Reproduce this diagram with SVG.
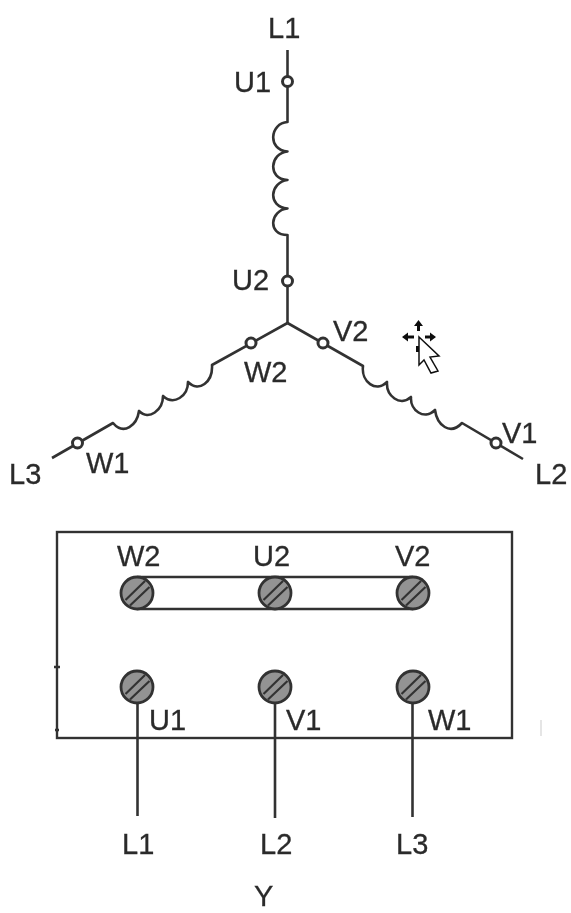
<svg xmlns="http://www.w3.org/2000/svg" width="571" height="913" viewBox="0 0 571 913">
<style>
text{font-family:"Liberation Sans",Arial,sans-serif;font-size:29px;fill:#2b2b2b;stroke:#2b2b2b;stroke-width:0.3}
.w{fill:none;stroke:#333;stroke-width:2.600;stroke-linecap:butt;stroke-linejoin:round}
.t{fill:#fff;stroke:#333;stroke-width:3}
.s{fill:#939393;stroke:#333;stroke-width:2.800}
.n{fill:none;stroke:#333;stroke-width:2.200}
</style>
<defs>
<filter id="b" x="-5%" y="-5%" width="110%" height="110%"><feGaussianBlur stdDeviation="0.55"/></filter>
<g id="screw"><circle class="s" r="16"/><path class="n" d="M-11.500,7 L8,-12 M-7,12.500 L12.500,-6"/></g>
</defs>
<rect width="571" height="913" fill="#fff"/>
<g filter="url(#b)">
<g id="connectors">
<path class="w" d="M287.500,50 V122 C270,123 267,150 287.500,151.500 C270,153 267,179 287.500,180 C270,182 267,207 287.500,208.500 C270,210 267,235 287.500,235 V323"/>
<path class="w" d="M287.500,323 L212,365 C213,382 199,393 188,382 C188,396 174,406 163,396 C163,410 149,421 139,411 C137,425 124,436 113,423 L52,458"/>
<path class="w" d="M287.500,323 L363,366 C361,382 376,393 387,382 C386,396 400,407 411,397 C410,410 424,421 435,410 C437,425 450,436 462,423 L523,459"/>
<path class="w" d="M137.500,703 V816 M275,703 V818 M412.500,703 V817"/>
<path class="w" d="M137,577 H413 M137,609 H413"/>
</g>
<g id="box"><rect x="57" y="532" width="455" height="206" fill="none" stroke="#333" stroke-width="2.400"/><path class="w" stroke-width="1.500" d="M54,667 H60 M55,730 H59"/></g>
<g id="t-u1"><circle class="t" cx="287.500" cy="81.500" r="5"/></g>
<g id="t-u2"><circle class="t" cx="287.500" cy="281" r="5"/></g>
<g id="t-w2"><circle class="t" cx="251" cy="343" r="5"/></g>
<g id="t-v2"><circle class="t" cx="323" cy="343" r="5"/></g>
<g id="t-w1"><circle class="t" cx="77.500" cy="443" r="5"/></g>
<g id="t-v1"><circle class="t" cx="496" cy="443" r="5"/></g>
<g id="s-w2"><use href="#screw" x="137" y="593"/></g>
<g id="s-u2"><use href="#screw" x="275" y="593"/></g>
<g id="s-v2"><use href="#screw" x="413" y="593"/></g>
<g id="s-u1"><use href="#screw" x="137" y="687"/></g>
<g id="s-v1"><use href="#screw" x="275" y="687"/></g>
<g id="s-w1"><use href="#screw" x="413" y="687"/></g>
<g id="labels">
<text x="268" y="38">L1</text>
<text x="234" y="92">U1</text>
<text x="232" y="290">U2</text>
<text x="333" y="341">V2</text>
<text x="244" y="382">W2</text>
<text x="86" y="473">W1</text>
<text x="9" y="484">L3</text>
<text x="502" y="443">V1</text>
<text x="535" y="484">L2</text>
<text x="117" y="566">W2</text>
<text x="253" y="566">U2</text>
<text x="395" y="566">V2</text>
<text x="149" y="730">U1</text>
<text x="286" y="730">V1</text>
<text x="428" y="730">W1</text>
<text x="122" y="854">L1</text>
<text x="260" y="854">L2</text>
<text x="396" y="854">L3</text>
<text x="254" y="906">Y</text>
</g>
<g id="cursor">
<path fill="#111" d="M418.500,320 l4.500,6 h-3 v5 h-3 v-5 h-3z M402,337 l6,-4.500 v3 h6 v3 h-6 v3z M436,337 l-6,-4.500 v3 h-5 v3 h5 v3z M416,346 h3 v6 h-3z"/>
<path fill="#fff" stroke="#111" stroke-width="1.500" d="M419,337 L439,356 L430,357 L438,371 L431,373 L424,360 L419,365z"/>
</g>
<path d="M541,720 V736" stroke="#ddd" stroke-width="1.500"/>
</g>
</svg>
